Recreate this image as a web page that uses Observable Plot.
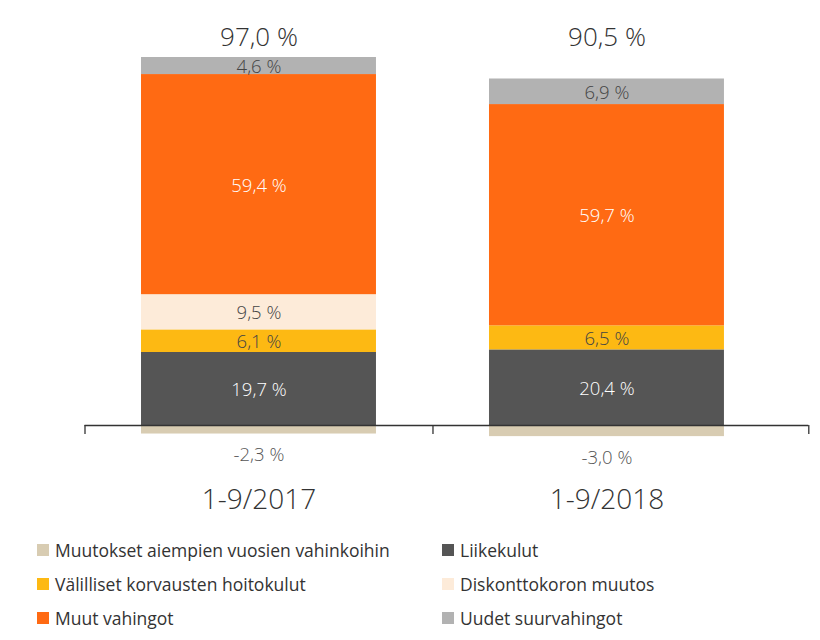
<!DOCTYPE html>
<html>
<head>
<meta charset="utf-8">
<script src="https://cdn.jsdelivr.net/npm/d3@7"></script>
<script src="https://cdn.jsdelivr.net/npm/@observablehq/plot@0.6"></script>
<style>
  body { margin: 0; background: #fff; font-family: "Open Sans", Lato, sans-serif; }
  #chart { width: 820px; }
  .legend { display: grid; grid-template-columns: 405px 400px; padding-left: 37px; margin-top: 19px; row-gap: 12px; color: #333; font-size: 17.5px; }
  .legend div { display: flex; align-items: center; height: 22px; white-space: nowrap; }
  .legend span.sw { width: 12px; height: 12px; display: inline-block; margin-right: 6px; flex: none; }
</style>
</head>
<body>
<div id="chart"></div>
<script>
const categories = ["1-9/2017", "1-9/2018"];
const series = [
  "Muutokset aiempien vuosien vahinkoihin",
  "Liikekulut",
  "Välilliset korvausten hoitokulut",
  "Diskonttokoron muutos",
  "Muut vahingot",
  "Uudet suurvahingot"
];
const values2017 = [-2.3, 19.7, 6.1, 9.5, 59.4, 4.6];
const values2018 = [-3.0, 20.4, 6.5, 0, 59.7, 6.9];
const totals = [97.0, 90.5];
const colors = ["#d8ccb2", "#555555", "#fdb913", "#fdebd9", "#ff6a13", "#b2b2b2"];
const labelColors = ["#555555", "#ffffff", "#444444", "#444444", "#ffffff", "#444444"];
const legendOrder = [0, 1, 2, 3, 4, 5];
const axisEdges = [-0.5, 0.5, 1.58];
const barHalf = 0.3376;

const fmt = v => v.toFixed(1).replace(".", ",") + " %";

// build stacked table
const rows = [];
[values2017, values2018].forEach((vals, i) => {
  let pos = 0, neg = 0;
  vals.forEach((v, s) => {
    if (v === 0) return;
    let y1, y2;
    if (v > 0) { y1 = pos; y2 = pos + v; pos = y2; }
    else { y1 = neg; y2 = neg + v; neg = y2; }
    rows.push({i, category: categories[i], series: series[s], s, value: v, y1, y2});
  });
});
const totalRows = totals.map((t, i) => ({i, t}));

const plot = Plot.plot({
  width: 820,
  height: 520,
  marginLeft: 84.5,
  marginRight: 11.7,
  marginTop: 0,
  marginBottom: 40,
  style: {fontFamily: "'Open Sans', Lato, sans-serif", background: "#fff"},
  x: {type: "linear", domain: [-0.5, 1.58], axis: null},
  y: {domain: [-14.84, 114.68], axis: null},
  color: {domain: series, range: colors},
  marks: [
    Plot.rect(rows, {
      x1: d => d.i - barHalf, x2: d => d.i + barHalf,
      y1: "y1", y2: "y2", fill: "series"
    }),
    Plot.text(rows.filter(d => d.value > 0), {
      x: "i", y: d => (d.y1 + d.y2) / 2, text: d => fmt(d.value),
      fill: d => labelColors[d.s], fontSize: 18.5, fontWeight: 300, dy: 1
    }),
    Plot.text(rows.filter(d => d.value < 0), {
      x: "i", y: "y2", text: d => fmt(d.value),
      fill: "#555", fontSize: 18.5, fontWeight: 300, dy: 21
    }),
    Plot.text(totalRows, {
      x: "i", text: d => fmt(d.t), frameAnchor: "top", lineAnchor: "middle", dy: 37,
      fill: "#333", fontSize: 26, fontWeight: 300
    }),
    Plot.ruleY([0], {stroke: "#333", strokeWidth: 1.3}),
    Plot.ruleX(axisEdges, {y1: 0, y2: 0, insetBottom: -9, stroke: "#333", strokeWidth: 1.3}),
    Plot.axisX({ticks: [0, 1], tickFormat: i => categories[i], tickSize: 0, tickPadding: 9, fontSize: 28, fontWeight: 300, fill: "#333", label: null})
  ]
});
document.getElementById("chart").appendChild(plot);

const legend = document.createElement("div");
legend.className = "legend";
legendOrder.forEach(s => {
  const item = document.createElement("div");
  const sw = document.createElement("span");
  sw.className = "sw";
  sw.style.background = colors[s];
  item.appendChild(sw);
  item.appendChild(document.createTextNode(series[s]));
  legend.appendChild(item);
});
document.getElementById("chart").appendChild(legend);
</script>
</body>
</html>
